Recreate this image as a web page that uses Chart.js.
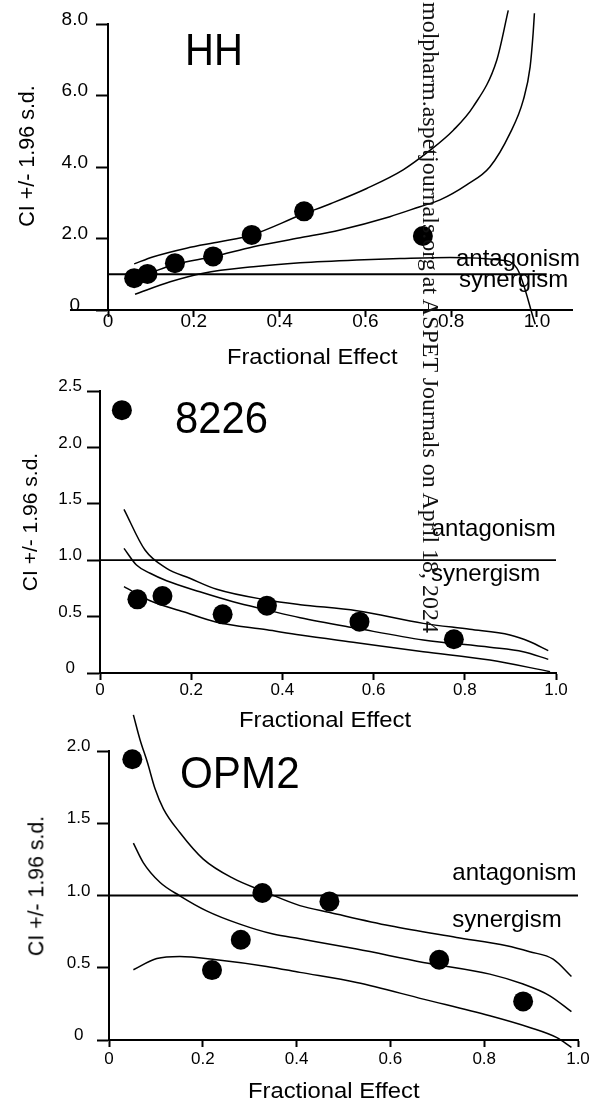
<!DOCTYPE html>
<html><head><meta charset="utf-8">
<script src="https://cdn.jsdelivr.net/npm/chart.js@4.4.1/dist/chart.umd.min.js"></script>
<style>
html,body{margin:0;padding:0;background:#fff;overflow:hidden;}
#wrap{position:relative;width:591px;height:1106px;background:#fff;}
canvas{position:absolute;left:0;top:0;}
.t{position:absolute;white-space:nowrap;line-height:1;font-family:'Liberation Sans',Arial,sans-serif;color:#000;transform-origin:0 0;}
.wm{font-family:'Liberation Serif','Times New Roman',serif;color:#111;}
</style></head><body>
<div id="wrap">
<canvas id="c1" width="591" height="1106"></canvas>
<canvas id="c2" width="591" height="1106"></canvas>
<canvas id="c3" width="591" height="1106"></canvas>
</div>
<script>
// ---------- shared tick values / labels ----------
const xTickValues = [0, 0.2, 0.4, 0.6, 0.8, 1.0];
const xTickLabels = ['0', '0.2', '0.4', '0.6', '0.8', '1.0'];

// ---------- HH ----------
const hhYTickValues = [0, 2, 4, 6, 8];
const hhYTickLabels = ['0', '2.0', '4.0', '6.0', '8.0'];
const hhDotX = [0.061, 0.092, 0.156, 0.245, 0.335, 0.457, 0.734];
const hhDotY = [0.89, 1.01, 1.31, 1.50, 2.10, 2.76, 2.07];
const hhUpperX = [0.061, 0.106, 0.183, 0.261, 0.335, 0.448, 0.520, 0.603, 0.688, 0.751, 0.805, 0.851, 0.906, 0.933];
const hhUpperY = [1.29, 1.49, 1.73, 1.91, 2.10, 2.65, 2.98, 3.40, 3.92, 4.47, 5.03, 5.68, 6.98, 8.38];
const hhFitX = [0.061, 0.090, 0.156, 0.245, 0.339, 0.448, 0.541, 0.657, 0.727, 0.774, 0.836, 0.890, 0.937, 0.968, 0.984, 0.991, 0.994];
const hhFitY = [0.89, 1.00, 1.28, 1.49, 1.77, 2.02, 2.24, 2.61, 2.89, 3.08, 3.50, 4.00, 4.94, 5.87, 6.80, 7.74, 8.30];
const hhLowerX = [0.063, 0.145, 0.222, 0.339, 0.448, 0.580, 0.681, 0.797, 0.914, 0.953, 0.996];
const hhLowerY = [0.44, 0.79, 1.03, 1.21, 1.32, 1.40, 1.44, 1.47, 1.40, 1.17, -0.40];
const hhRefX = [0, 1.0226];
const hhRefY = [1, 1];
const hhAxisExtX = [-0.0886, 0];
const hhAxisExtY = [0, 0];

// ---------- 8226 ----------
const m8226YTickValues = [0, 0.5, 1.0, 1.5, 2.0, 2.5];
const m8226YTickLabels = ['0', '0.5', '1.0', '1.5', '2.0', '2.5'];
const m8226DotX = [0.048, 0.082, 0.137, 0.269, 0.366, 0.569, 0.776];
const m8226DotY = [2.33, 0.653, 0.683, 0.52, 0.597, 0.455, 0.299];
const m8226UpperX = [0.0526, 0.0987, 0.146, 0.197, 0.256, 0.366, 0.439, 0.563, 0.709, 0.811, 0.899, 0.943, 0.983];
const m8226UpperY = [1.451, 1.09, 0.928, 0.84, 0.742, 0.647, 0.606, 0.552, 0.44, 0.387, 0.337, 0.277, 0.198];
const m8226FitX = [0.0526, 0.080, 0.110, 0.146, 0.219, 0.292, 0.366, 0.439, 0.563, 0.709, 0.855, 0.928, 0.983];
const m8226FitY = [1.105, 0.957, 0.884, 0.818, 0.72, 0.632, 0.559, 0.49, 0.396, 0.293, 0.228, 0.189, 0.121];
const m8226LowerX = [0.0526, 0.110, 0.183, 0.256, 0.366, 0.439, 0.563, 0.709, 0.855, 0.987];
const m8226LowerY = [0.765, 0.641, 0.543, 0.45, 0.383, 0.337, 0.269, 0.189, 0.115, 0.012];
const m8226RefX = [0, 1.0];
const m8226RefY = [1, 1];

// ---------- OPM2 ----------
const opm2YTickValues = [0, 0.5, 1.0, 1.5, 2.0];
const opm2YTickLabels = ['0', '0.5', '1.0', '1.5', '2.0'];
const opm2DotX = [0.0497, 0.2196, 0.281, 0.327, 0.470, 0.704, 0.883];
const opm2DotY = [1.943, 0.484, 0.694, 1.017, 0.959, 0.555, 0.267];
const opm2UpperX = [0.052, 0.066, 0.082, 0.098, 0.116, 0.151, 0.201, 0.265, 0.327, 0.407, 0.471, 0.599, 0.741, 0.848, 0.897, 0.947, 0.986];
const opm2UpperY = [2.25, 2.08, 1.92, 1.74, 1.60, 1.436, 1.252, 1.118, 1.032, 0.93, 0.882, 0.79, 0.71, 0.652, 0.611, 0.56, 0.44];
const opm2FitX = [0.052, 0.073, 0.109, 0.151, 0.208, 0.279, 0.350, 0.407, 0.528, 0.670, 0.812, 0.883, 0.940, 0.986];
const opm2FitY = [1.362, 1.228, 1.09, 0.998, 0.894, 0.802, 0.733, 0.70, 0.629, 0.537, 0.456, 0.387, 0.306, 0.196];
const opm2LowerX = [0.052, 0.102, 0.151, 0.229, 0.336, 0.407, 0.528, 0.670, 0.812, 0.897, 0.954, 0.986];
const opm2LowerY = [0.486, 0.564, 0.578, 0.555, 0.509, 0.468, 0.398, 0.283, 0.168, 0.087, 0.018, -0.051];
const opm2RefX = [0, 1.0];
const opm2RefY = [1, 1];

// ---------- helpers ----------
Chart.defaults.font.family = "'Liberation Sans', Arial, sans-serif";
Chart.defaults.color = '#000';

const pts = (xs, ys) => xs.map((x, i) => ({ x: x, y: ys[i] }));
function curve(xs, ys) {
  return { data: pts(xs, ys), borderColor: '#000', borderWidth: 1.5, pointRadius: 0,
    fill: false, cubicInterpolationMode: 'monotone', clip: false };
}
function straight(xs, ys, w) {
  return { data: pts(xs, ys), borderColor: '#000', borderWidth: w, pointRadius: 0,
    fill: false, tension: 0, clip: false };
}
function dots(xs, ys) {
  return { data: pts(xs, ys), showLine: false, pointRadius: 10, pointHoverRadius: 10,
    pointBackgroundColor: '#000', pointBorderColor: '#000', pointBorderWidth: 0, clip: false };
}

function makePanel(id, p) {
  new Chart(document.getElementById(id), {
    type: 'line',
    data: { datasets: p.datasets },
    options: {
      responsive: false, animation: false, devicePixelRatio: 1,
      events: [],
      layout: { autoPadding: false, padding: p.padding },
      plugins: { legend: { display: false }, tooltip: { enabled: false }, title: { display: false } },
      scales: {
        x: {
          type: 'linear', position: 'bottom', min: 0, max: p.xMax,
          afterBuildTicks: s => { s.ticks = xTickValues.map(v => ({ value: v })); },
          afterFit: s => { s.height = 60; s.paddingLeft = 0; s.paddingRight = 0; },
          grid: { display: true, drawOnChartArea: false, drawTicks: true, tickLength: 7,
            tickWidth: 2, tickColor: '#000', color: '#000' },
          border: { display: true, color: '#000', width: 2 },
          ticks: { color: '#000', font: { size: p.xFont }, padding: p.xPad, maxRotation: 0,
            autoSkip: false, callback: (v, i) => xTickLabels[i] }
        },
        y: {
          type: 'linear', position: 'left', min: 0, max: p.yMax,
          afterBuildTicks: s => { s.ticks = p.yTicks.map(v => ({ value: v })); },
          afterFit: s => { s.width = 60; s.paddingTop = 0; s.paddingBottom = 0; },
          grid: { display: true, drawOnChartArea: false, drawTicks: true, tickLength: p.yTickLen,
            tickWidth: 2, tickColor: '#000', color: '#000' },
          border: { display: true, color: '#000', width: 2 },
          ticks: { color: '#000', font: { size: p.yFont }, padding: p.yPad, crossAlign: 'center',
            labelOffset: -4.5, autoSkip: false, callback: (v, i) => p.yLabels[i] }
        }
      }
    }
  });
}

makePanel('c1', {
  padding: { left: 48, right: 19, top: 24, bottom: 736 },
  xMax: 1.0816, yMax: 8, yTicks: hhYTickValues, yLabels: hhYTickLabels,
  xFont: 19, yFont: 19, xPad: -7, yPad: 8, yTickLen: 12,
  datasets: [
    straight(hhAxisExtX, hhAxisExtY, 2),
    straight(hhRefX, hhRefY, 1.8),
    curve(hhUpperX, hhUpperY), curve(hhFitX, hhFitY), curve(hhLowerX, hhLowerY),
    dots(hhDotX, hhDotY)
  ]
});
makePanel('c2', {
  padding: { left: 40, right: 35, top: 391, bottom: 373 },
  xMax: 1.0, yMax: 2.5, yTicks: m8226YTickValues, yLabels: m8226YTickLabels,
  xFont: 17, yFont: 17, xPad: 0, yPad: 5, yTickLen: 13,
  datasets: [
    straight(m8226RefX, m8226RefY, 1.8),
    curve(m8226UpperX, m8226UpperY), curve(m8226FitX, m8226FitY), curve(m8226LowerX, m8226LowerY),
    dots(m8226DotX, m8226DotY)
  ]
});
makePanel('c3', {
  padding: { left: 49, right: 13, top: 751, bottom: 6 },
  xMax: 1.0, yMax: 2.0, yTicks: opm2YTickValues, yLabels: opm2YTickLabels,
  xFont: 17, yFont: 17, xPad: 2, yPad: 6.5, yTickLen: 12,
  datasets: [
    straight(opm2RefX, opm2RefY, 1.8),
    curve(opm2UpperX, opm2UpperY), curve(opm2FitX, opm2FitY), curve(opm2LowerX, opm2LowerY),
    dots(opm2DotX, opm2DotY)
  ]
});

// ---------- text ----------
const wrap = document.getElementById('wrap');
function addText(txt, left, baseline, fs, sx) {
  const d = document.createElement('div');
  d.className = 't';
  d.textContent = txt;
  d.style.fontSize = fs + 'px';
  d.style.left = left + 'px';
  d.style.top = (baseline - 0.8465 * fs) + 'px';
  if (sx) d.style.transform = 'scaleX(' + sx + ')';
  wrap.appendChild(d);
}
function addVText(txt, cx, cy, fs) {
  const d = document.createElement('div');
  d.className = 't';
  d.textContent = txt;
  d.style.fontSize = fs + 'px';
  d.style.left = cx + 'px';
  d.style.top = cy + 'px';
  d.style.transformOrigin = '50% 50%';
  d.style.transform = 'translate(-50%,-50%) rotate(-90deg)';
  wrap.appendChild(d);
}

addText('HH', 185, 65, 44, 0.91);
addText('8226', 175, 433, 44, 0.95);
addText('OPM2', 180, 788, 44, 0.96);

addText('antagonism', 456, 266.7, 24);
addText('synergism', 459, 287.5, 24);
addText('antagonism', 431.7, 536.7, 24);
addText('synergism', 431, 581.7, 24);
addText('antagonism', 452.3, 880, 24);
addText('synergism', 452.3, 927.7, 24);

addText('Fractional Effect', 227, 365, 22, 1.075);
addText('Fractional Effect', 239, 728, 22, 1.086);
addText('Fractional Effect', 248, 1099, 22, 1.082);

addVText('CI +/- 1.96 s.d.', 28, 156, 21.5);
addVText('CI +/- 1.96 s.d.', 29, 521.7, 21);
addVText('CI +/- 1.96 s.d.', 36.7, 886, 21.3);

// watermark (rotated, reads top to bottom)
(function () {
  const d = document.createElement('div');
  d.className = 't wm';
  d.textContent = 'molpharm.aspetjournals.org at ASPET Journals on April 18, 2024';
  d.style.fontSize = '24px';
  d.style.left = '442.6px';
  d.style.top = '2px';
  d.style.transform = 'rotate(90deg)';
  wrap.appendChild(d);
})();
</script>
</body></html>
